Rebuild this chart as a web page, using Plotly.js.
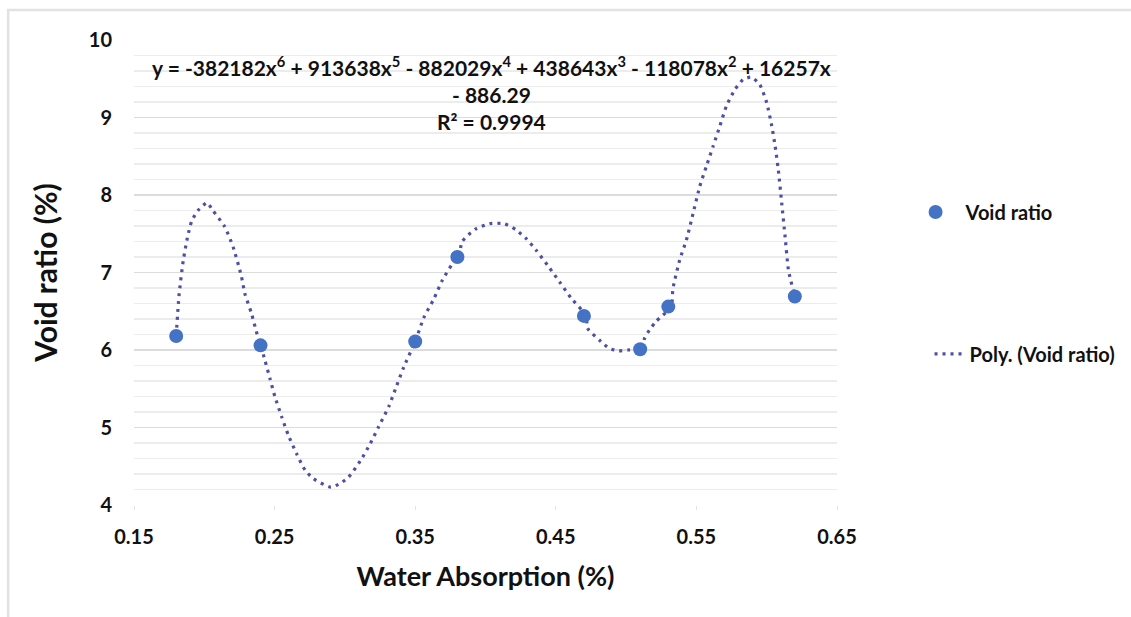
<!DOCTYPE html>
<html>
<head>
<meta charset="utf-8">
<script src="https://cdn.plot.ly/plotly-3.0.1.min.js"></script>
<style>html,body{margin:0;padding:0;background:#fff;}#chart{width:1131px;height:617px;}</style>
</head>
<body>
<div id="chart"></div>
<script>
// Measured data points
const waterAbsorption = [0.18, 0.24, 0.35, 0.38, 0.47, 0.51, 0.53, 0.62];
const voidRatio = [6.18, 6.06, 6.11, 7.20, 6.44, 6.01, 6.56, 6.69];

// Trendline
const trendX = [0.18, 0.182, 0.185, 0.188, 0.191, 0.1955, 0.202, 0.2057, 0.2145, 0.2205, 0.2264, 0.2288, 0.2336, 0.237, 0.24, 0.2431, 0.2467, 0.2502, 0.255, 0.2598, 0.2657, 0.2717, 0.2776, 0.29, 0.2967, 0.3026, 0.311, 0.318, 0.324, 0.3312, 0.336, 0.3419, 0.35, 0.3562, 0.3633, 0.3693, 0.3764, 0.381, 0.3834, 0.3929, 0.403, 0.4133, 0.4217, 0.4288, 0.4359, 0.4455, 0.4526, 0.4609, 0.4716, 0.4726, 0.4821, 0.4881, 0.4948, 0.5012, 0.5117, 0.5131, 0.5167, 0.5214, 0.532, 0.5333, 0.5381, 0.5429, 0.5476, 0.5524, 0.5571, 0.5619, 0.5667, 0.5714, 0.5774, 0.5833, 0.5893, 0.5952, 0.60, 0.6036, 0.606, 0.6083, 0.6107, 0.6131, 0.6155, 0.62];
const trendY = [6.18, 6.70, 7.15, 7.45, 7.66, 7.80, 7.90, 7.81, 7.59, 7.33, 6.95, 6.73, 6.47, 6.24, 6.06, 5.87, 5.63, 5.40, 5.14, 4.90, 4.66, 4.45, 4.34, 4.23, 4.28, 4.36, 4.57, 4.79, 5.01, 5.27, 5.50, 5.78, 6.11, 6.42, 6.66, 6.90, 7.11, 7.20, 7.40, 7.56, 7.63, 7.63, 7.55, 7.44, 7.29, 7.06, 6.88, 6.67, 6.44, 6.28, 6.11, 6.02, 5.99, 6.00, 6.02, 6.15, 6.26, 6.37, 6.56, 6.79, 7.16, 7.42, 7.76, 8.11, 8.37, 8.63, 8.89, 9.15, 9.36, 9.49, 9.52, 9.42, 9.19, 8.89, 8.63, 8.32, 7.89, 7.46, 7.03, 6.69];

const xTickVals = [0.15, 0.25, 0.35, 0.45, 0.55, 0.65];
const xTickText = ["0.15", "0.25", "0.35", "0.45", "0.55", "0.65"];
const yTickVals = [4, 5, 6, 7, 8, 9, 10];

const FONT = "Lato, 'Open Sans', sans-serif";

const traces = [
  {
    x: trendX, y: trendY, type: 'scatter', mode: 'lines',
    name: 'Poly. (Void ratio)',
    line: {color: '#4f4fa3', width: 3.2, dash: '3px,5px', shape: 'spline', smoothing: 0.6},
    legend: 'legend2', hoverinfo: 'skip'
  },
  {
    x: waterAbsorption, y: voidRatio, type: 'scatter', mode: 'markers',
    name: 'Void ratio',
    marker: {color: '#4472c4', size: 14},
    legend: 'legend'
  }
];

const layout = {
  width: 1131, height: 617,
  margin: {l: 134, r: 293, t: 40, b: 112},
  paper_bgcolor: '#ffffff', plot_bgcolor: '#ffffff',
  font: {family: FONT, color: '#111111'},
  xaxis: {
    range: [0.15, 0.65], tickvals: xTickVals, ticktext: xTickText,
    showgrid: false, zeroline: false, showline: false,
    ticks: 'outside', ticklen: 4, tickcolor: '#e4e4e4',
    tickfont: {size: 20, family: FONT, weight: 'bold', color: '#111'},
    ticklabelstandoff: 10,
    title: {text: 'Water Absorption (%)', font: {size: 27, family: FONT, weight: 'bold', color: '#111'}, standoff: 20}
  },
  yaxis: {
    range: [4, 10], tickvals: yTickVals,
    showgrid: true, gridcolor: '#dcdcdc', gridwidth: 1.5,
    minor: {dtick: 0.2, showgrid: true, gridcolor: '#ececec', gridwidth: 1.5},
    zeroline: false, showline: false, ticks: '',
    tickfont: {size: 20, family: FONT, weight: 'bold', color: '#111'},
    ticklabelstandoff: 21,
    title: {text: 'Void ratio (%)', font: {size: 30, family: FONT, weight: 'bold', color: '#111'}, standoff: 22}
  },
  legend: {
    x: 1.096, y: 0.63, xanchor: 'left', yanchor: 'middle', itemwidth: 50,
    font: {size: 20, family: FONT, weight: 'bold', color: '#111'},
    bgcolor: 'rgba(0,0,0,0)'
  },
  legend2: {
    x: 1.13, y: 0.325, xanchor: 'left', yanchor: 'middle',
    font: {size: 20, family: FONT, weight: 'bold', color: '#111'},
    bgcolor: 'rgba(0,0,0,0)'
  },
  annotations: [{
    xref: 'paper', yref: 'paper', x: 0.508, y: 0.887, xanchor: 'center', yanchor: 'middle',
    align: 'center', showarrow: false,
    text: 'y = -382182x<sup>6</sup> + 913638x<sup>5</sup> - 882029x<sup>4</sup> + 438643x<sup>3</sup> - 118078x<sup>2</sup> + 16257x<br>- 886.29<br>R² = 0.9994',
    font: {size: 21, family: FONT, weight: 'bold', color: '#111'}
  }],
  shapes: [{
    type: 'rect', xref: 'paper', yref: 'paper',
    x0: -0.179, x1: 2, y0: -1, y1: 1.0645,
    line: {color: '#e2e2e2', width: 2.5}, fillcolor: 'rgba(0,0,0,0)', layer: 'below'
  }],
  showlegend: true
};

Plotly.newPlot('chart', traces, layout, {staticPlot: true, displayModeBar: false});
</script>
</body>
</html>
